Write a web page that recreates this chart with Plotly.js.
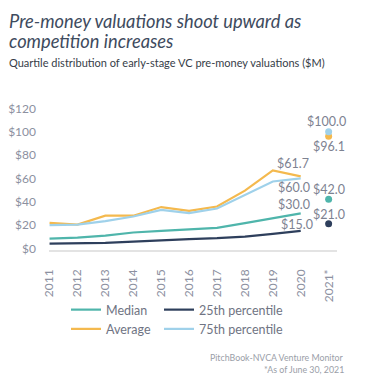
<!DOCTYPE html>
<html><head><meta charset="utf-8">
<script src="https://cdn.plot.ly/plotly-3.0.1.min.js"></script>
<style>html,body{margin:0;padding:0;background:#fff}#chart{width:365px;height:381px}</style>
</head><body><div id="chart"></div>
<script>
const years = [2011,2012,2013,2014,2015,2016,2017,2018,2019,2020];
const tickYears = [2011,2012,2013,2014,2015,2016,2017,2018,2019,2020,2021];
const tickLabels = ['2011','2012','2013','2014','2015','2016','2017','2018','2019','2020','2021*'];
const yTickVals = [0,20,40,60,80,100,120];
const yTickLabels = ['$0','$20','$40','$60','$80','$100','$120'];
const median = [8.4,9.2,11.0,13.6,15.0,16.5,17.6,21.6,25.6,30.0];
const p25 = [4.1,4.1,4.7,5.8,7.0,7.9,8.7,10.1,12.4,15.0];
const average = [21.9,20.4,28.0,28.0,35.4,32.2,35.9,49.5,66.8,61.7];
const p75 = [19.9,20.4,23.3,27.3,33.0,30.2,34.2,46.0,57.3,60.0];
const ytd2021 = {median:42.0, p25:21.0, average:96.1, p75:100.0};

const C = {median:'#4fb5ab', p25:'#2e3f5c', average:'#f4b94e', p75:'#9fd1ea'};
const W=365,H=381, L=49,R=28,T=106,B=131;
const pw=W-L-R, ph=H-T-B;
const px2x = p => (p-L)/pw;
const py2y = p => (H-B-p)/ph;

function line(name,y,color,legend){
  return {x:years,y:y,type:'scatter',mode:'lines',name:name,line:{color:color,width:2.2},legend:legend,hoverinfo:'skip'};
}
function dot(v,color){
  return {x:[2021],y:[v],type:'scatter',mode:'markers',marker:{color:color,size:7},showlegend:false,hoverinfo:'skip'};
}
const data = [
  line('Median',median,C.median,'legend'),
  line('Average',average,C.average,'legend'),
  line('25th percentile',p25,C.p25,'legend2'),
  line('75th percentile',p75,C.p75,'legend2'),
  dot(ytd2021.median,C.median), dot(ytd2021.p25,C.p25),
  dot(ytd2021.average,C.average), dot(ytd2021.p75,C.p75)
];
const lblFont = {family:'Lato, sans-serif', size:12.5, color:'#7d8291'};
function lab(x,y,text,xs,ys){
  return {x:x,y:y,xref:'x',yref:'y',text:text,showarrow:false,font:lblFont,xshift:xs,yshift:ys};
}
const fmt = v => '$'+v.toFixed(1);
const titleFont = {family:'Lato, sans-serif',size:18.3,style:'italic',weight:400,color:'#3e4b5e'};
const annotations = [
  lab(2020,average[9],fmt(average[9]),-8,13),
  lab(2020,p75[9],fmt(p75[9]),-7,-9),
  lab(2020,median[9],fmt(median[9]),-7,8.5),
  lab(2020,p25[9],fmt(p25[9]),-4,6.5),
  lab(2021,ytd2021.p75,fmt(ytd2021.p75),-2,10),
  lab(2021,ytd2021.average,fmt(ytd2021.average),0,-10),
  lab(2021,ytd2021.median,fmt(ytd2021.median),0,10),
  lab(2021,ytd2021.p25,fmt(ytd2021.p25),0,9.5),
  {xref:'paper',yref:'paper',x:px2x(7),y:py2y(8),xanchor:'left',yanchor:'top',showarrow:false,align:'left',
   text:'Pre-money valuations shoot upward as',font:titleFont},
  {xref:'paper',yref:'paper',x:px2x(7),y:py2y(28),xanchor:'left',yanchor:'top',showarrow:false,align:'left',
   text:'competition increases',font:titleFont},
  {xref:'paper',yref:'paper',x:px2x(7),y:py2y(54),xanchor:'left',yanchor:'top',showarrow:false,align:'left',
   text:'Quartile distribution of early-stage VC pre-money valuations ($M)',font:{family:'Lato, sans-serif',size:11,color:'#363d48'}},
  {xref:'paper',yref:'paper',x:px2x(346),y:py2y(350),xanchor:'right',yanchor:'top',showarrow:false,align:'right',
   text:'PitchBook-NVCA Venture Monitor',font:{family:'Lato, sans-serif',size:8.8,color:'#9a9ea8'}},
  {xref:'paper',yref:'paper',x:px2x(346),y:py2y(362),xanchor:'right',yanchor:'top',showarrow:false,align:'right',
   text:'*As of June 30, 2021',font:{family:'Lato, sans-serif',size:8.8,color:'#9a9ea8'}}
];
const legFont = {family:'Lato, sans-serif', size:12.5, color:'#6f7483'};
const layout = {
  width:W,height:H,margin:{l:L,r:R,t:T,b:B,autoexpand:false},
  paper_bgcolor:'#fff',plot_bgcolor:'#fff',
  showlegend:true,
  xaxis:{range:[2010.98,2021.3],tickvals:tickYears,ticktext:tickLabels,tickangle:-90,automargin:false,
    showgrid:false,zeroline:false,showline:true,linecolor:'#e3e3e3',linewidth:1.5,
    ticks:'',ticklabelstandoff:13,tickfont:{family:'Lato, sans-serif',size:12,color:'#8c90a0'},fixedrange:true},
  yaxis:{range:[-1.4,122],tickvals:yTickVals,ticktext:yTickLabels,automargin:false,
    showgrid:false,zeroline:false,showline:false,ticks:'',ticklabelstandoff:12,
    tickfont:{family:'Lato, sans-serif',size:12,color:'#8c90a0'},fixedrange:true},
  legend:{xref:'paper',yref:'paper',x:px2x(66),y:py2y(295),xanchor:'left',yanchor:'top',font:legFont,bgcolor:'rgba(0,0,0,0)',itemwidth:30},
  legend2:{xref:'paper',yref:'paper',x:px2x(159),y:py2y(295),xanchor:'left',yanchor:'top',font:legFont,bgcolor:'rgba(0,0,0,0)',itemwidth:30},
  annotations:annotations
};
Plotly.newPlot('chart',data,layout,{staticPlot:true,displayModeBar:false});
</script></body></html>
